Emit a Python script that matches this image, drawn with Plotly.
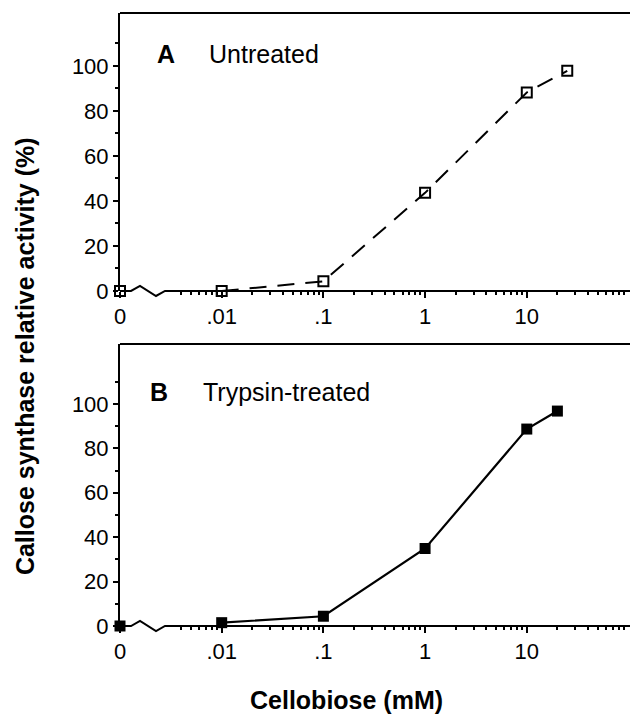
import plotly.graph_objects as go

# ---- data ----
conc_a = [0, 0.01, 0.1, 1, 10, 25]          # Cellobiose (mM), panel A
act_a = [0, 0, 4.3, 43.6, 88.2, 97.8]       # Untreated
conc_b = [0, 0.01, 0.1, 1, 10, 20]          # Cellobiose (mM), panel B
act_b = [0, 1.5, 4.4, 34.9, 88.7, 96.8]     # Trypsin-treated
x_tick_vals = [0.001, 0.01, 0.1, 1, 10]
x_tick_text = ["0", ".01", ".1", "1", "10"]
y_tick_vals = [0, 20, 40, 60, 80, 100]
ZERO_POS = 0.001  # where concentration 0 is drawn on the log axis

FONT = "Liberation Sans, Arial, sans-serif"

def xpos(c):
    return [ZERO_POS if v == 0 else v for v in c]

fig = go.Figure()

# Panel A
xa = xpos(conc_a)
fig.add_trace(go.Scatter(x=xa[1:], y=act_a[1:], mode="lines+markers",
                         line=dict(color="black", width=2, dash="17px,11px"),
                         marker=dict(symbol="square-open", size=10, color="black",
                                     line=dict(width=2, color="black")),
                         cliponaxis=False, showlegend=False, xaxis="x", yaxis="y"))
fig.add_trace(go.Scatter(x=xa[:1], y=act_a[:1], mode="markers",
                         marker=dict(symbol="square", size=10, color="white",
                                     line=dict(width=2, color="black")),
                         cliponaxis=False, showlegend=False, xaxis="x", yaxis="y"))
# Panel B
xb = xpos(conc_b)
fig.add_trace(go.Scatter(x=xb[1:], y=act_b[1:], mode="lines+markers",
                         line=dict(color="black", width=2.2),
                         marker=dict(symbol="square", size=11, color="black"),
                         cliponaxis=False, showlegend=False, xaxis="x2", yaxis="y2"))
fig.add_trace(go.Scatter(x=xb[:1], y=act_b[:1], mode="markers",
                         marker=dict(symbol="square", size=11, color="black"),
                         cliponaxis=False, showlegend=False, xaxis="x2", yaxis="y2"))

minor_x = [m * 10 ** e for e in (-3,) for m in range(4, 10)] + \
          [m * 10 ** e for e in (-2, -1, 0, 1) for m in range(2, 10)]

xaxis_common = dict(type="log", range=[-3, 2.015], tickmode="array",
                    tickvals=x_tick_vals, ticktext=x_tick_text,
                    ticks="outside", ticklen=6, tickwidth=2, tickcolor="black",
                    showline=False, showgrid=False, zeroline=False,
                    tickfont=dict(family=FONT, size=22, color="black"),
                    minor=dict(tickmode="array", tickvals=minor_x, ticks="outside",
                               ticklen=3, tickwidth=1.5, tickcolor="black", showgrid=False))
yaxis_common = dict(tickmode="array", tickvals=y_tick_vals,
                    ticks="outside", ticklen=5, tickwidth=2, tickcolor="black",
                    showline=True, linewidth=2, linecolor="black",
                    showgrid=False, zeroline=False,
                    tickfont=dict(family=FONT, size=22, color="black"),
                    minor=dict(tickmode="array", tickvals=[10, 30, 50, 70, 90, 110],
                               ticks="outside", ticklen=3, tickwidth=1.5,
                               tickcolor="black", showgrid=False))

fig.update_layout(
    width=630, height=719,
    margin=dict(l=120, r=0, t=13, b=93),
    paper_bgcolor="white", plot_bgcolor="white",
    xaxis=dict(domain=[0, 1], anchor="y", **xaxis_common),
    yaxis=dict(domain=[0.5465, 1], anchor="x", range=[0, 123.5], **yaxis_common),
    xaxis2=dict(domain=[0, 1], anchor="y2", **xaxis_common),
    yaxis2=dict(domain=[0, 0.46], anchor="x2", range=[0, 127], **yaxis_common),
)

# Frame lines (top) and broken bottom axes drawn as axis decoration
shapes = []
for xr, yr, hpx in (("x domain", "y domain", 278), ("x2 domain", "y2 domain", 282)):
    shapes.append(dict(type="line", xref=xr, yref=yr, x0=0, x1=1, y0=1, y1=1,
                       line=dict(color="black", width=2)))
    up = 5 / hpx
    dn = -5 / hpx
    pts = [(0, 0), (11 / 510, 0), (20 / 510, up), (36 / 510, dn), (45 / 510, 0), (1, 0)]
    path = "M " + " L ".join(f"{px},{py}" for px, py in pts)
    shapes.append(dict(type="path", xref=xr, yref=yr, path=path,
                       line=dict(color="black", width=2)))
fig.update_layout(shapes=shapes)

ann = []
for xr, yr, letter, label, xl, xt, yy in (
        ("x domain", "y domain", "A", "Untreated", 0.0686, 0.1706, 0.8525),
        ("x2 domain", "y2 domain", "B", "Trypsin-treated", 0.0555, 0.158, 0.831)):
    ann.append(dict(xref=xr, yref=yr, x=xl, y=yy, xanchor="left", yanchor="middle",
                    text=f"<b>{letter}</b>", showarrow=False,
                    font=dict(family=FONT, size=25, color="black")))
    ann.append(dict(xref=xr, yref=yr, x=xt, y=yy, xanchor="left", yanchor="middle",
                    text=label, showarrow=False,
                    font=dict(family=FONT, size=25, color="black")))
ann.append(dict(xref="paper", yref="paper", x=0.444, y=-0.1207,
                xanchor="center", yanchor="middle",
                text="<b>Cellobiose (mM)</b>", showarrow=False,
                font=dict(family=FONT, size=25, color="black")))
ann.append(dict(xref="paper", yref="paper", x=-0.186, y=0.4405,
                xanchor="center", yanchor="middle", textangle=-90,
                text="<b>Callose synthase relative activity (%)</b>", showarrow=False,
                font=dict(family=FONT, size=25, color="black")))
fig.update_layout(annotations=ann)

fig.write_html("out.html")
